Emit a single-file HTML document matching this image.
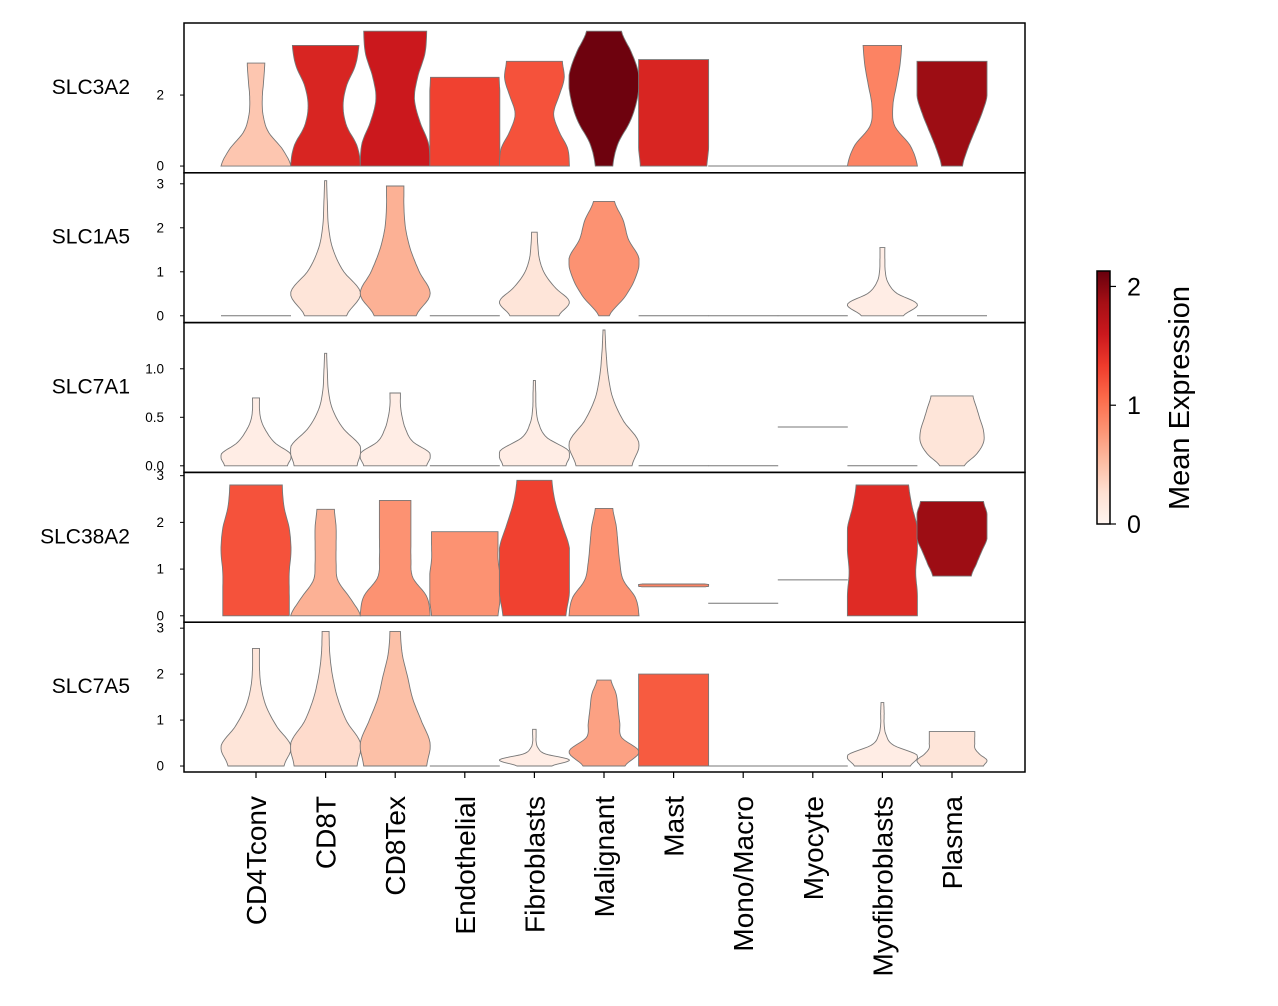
<!DOCTYPE html>
<html><head><meta charset="utf-8"><style>
html,body{margin:0;padding:0;background:#fff;}
svg{display:block;font-family:"Liberation Sans","DejaVu Sans",sans-serif;}
</style></head><body>
<svg id="chart" width="1278" height="1006" viewBox="0 0 1278 1006">
<defs><linearGradient id="reds" x1="0" y1="1" x2="0" y2="0">
<stop offset="0" stop-color="#fff5f0"/><stop offset="0.125" stop-color="#fee0d2"/><stop offset="0.25" stop-color="#fcbba1"/><stop offset="0.375" stop-color="#fc9272"/><stop offset="0.5" stop-color="#fb6a4a"/><stop offset="0.625" stop-color="#ef3b2c"/><stop offset="0.75" stop-color="#cb181d"/><stop offset="0.875" stop-color="#a50f15"/><stop offset="1" stop-color="#67000d"/>
</linearGradient></defs>
</svg>
<script>
const categories=["CD4Tconv","CD8T","CD8Tex","Endothelial","Fibroblasts","Malignant","Mast","Mono/Macro","Myocyte","Myofibroblasts","Plasma"];
const genes=["SLC3A2","SLC1A5","SLC7A1","SLC38A2","SLC7A5"];
const yTicks=[[0,2],[0,1,2,3],[0,0.5,1.0],[0,1,2,3],[0,1,2,3]];
const yTickLabels=[["0","2"],["0","1","2","3"],["0.0","0.5","1.0"],["0","1","2","3"],["0","1","2","3"]];
const yMax=[4.03,3.25,1.476,3.07,3.13];
const yMinV=[-0.19,-0.155,-0.068,-0.137,-0.13];
const tops=[
[2.9,3.4,3.8,2.5,2.95,3.8,3.0,0,0,3.4,2.95],
[0,3.07,2.95,0,1.9,2.6,0,0,0,1.55,0],
[0.7,1.16,0.75,0,0.88,1.4,0,0,0.4,0,0.72],
[2.8,2.28,2.47,1.8,2.9,2.3,0.68,0.27,0.77,2.8,2.45],
[2.56,2.93,2.93,0,0.8,1.87,2.0,0,0,1.38,0.75]];
const mins=[
[0,0,0,0,0,0,0,0,0,0,0],
[0,0,0,0,0,0,0,0,0,0,0],
[0,0,0,0,0,0,0,0,0.4,0,0],
[0,0,0,0,0,0,0.62,0.27,0.77,0,0.85],
[0,0,0,0,0,0,0,0,0,0,0]];
const means=[
[0.45,1.5,1.6,1.3,1.2,2.1,1.5,0,0,0.9,1.9],
[0,0.2,0.6,0,0.2,0.8,0,0,0,0.1,0],
[0.1,0.1,0.1,0,0.1,0.2,0,0,0,0,0.2],
[1.2,0.6,0.8,0.8,1.3,0.8,0.9,0,0,1.45,1.9],
[0.2,0.3,0.5,0,0.1,0.7,1.15,0,0,0.1,0.2]];
const F=[1,1,1,1,1,1,1];
const profiles=[
[[1,0.75,0.35,0.2,0.18,0.22,0.25],[1,0.9,0.6,0.5,0.6,0.85,0.95],[1,0.95,0.7,0.55,0.65,0.85,0.9],[1,1,1,1,1,1,0.98],[1,0.95,0.7,0.55,0.7,0.85,0.8],[0.25,0.4,0.75,0.95,1,0.8,0.5],[0.95,1,1,1,1,1,1],F,F,[1,0.8,0.35,0.3,0.4,0.5,0.55],[0.3,0.45,0.65,0.85,1,1,1]],
[F,[0.6,1,0.5,0.2,0.08,0.05,0.03],[0.6,1,0.7,0.45,0.3,0.25,0.25],F,[0.7,1,0.6,0.3,0.15,0.1,0.08],[0.15,0.6,0.9,1,0.7,0.55,0.3],F,F,F,[0.6,1,0.4,0.15,0.08,0.07,0.07],F],
[[0.9,1,0.55,0.3,0.15,0.1,0.1],[0.9,1,0.5,0.2,0.08,0.05,0.03],[0.9,1,0.5,0.3,0.2,0.15,0.15],F,[0.9,1,0.35,0.12,0.05,0.04,0.03],[0.8,1,0.55,0.25,0.12,0.06,0.03],F,F,F,F,[0.35,0.7,0.9,0.9,0.8,0.7,0.6]],
[[0.95,0.95,0.95,1,0.95,0.8,0.75],[1,0.7,0.35,0.3,0.3,0.3,0.25],[1,0.9,0.5,0.45,0.45,0.45,0.45],[0.95,1,1,1,0.95,0.95,0.95],[0.9,1,1,1,0.8,0.6,0.5],[1,0.9,0.55,0.45,0.4,0.35,0.25],[0.9,1,1,1,1,1,0.9],F,F,[1,1,0.95,1,1,0.85,0.75],[0.55,0.7,0.85,1,1,1,0.9]],
[[0.8,1,0.6,0.3,0.15,0.1,0.1],[0.9,1,0.6,0.35,0.2,0.12,0.1],[0.9,1,0.75,0.5,0.35,0.2,0.15],F,[0.5,1,0.3,0.1,0.05,0.05,0.05],[0.6,1,0.5,0.45,0.4,0.35,0.2],F,F,F,[0.8,1,0.3,0.1,0.05,0.05,0.04],[0.9,1,0.8,0.66,0.65,0.65,0.65]]];
const cbTicks=[0,1,2];
const vmax=2.13;

const NS="http://www.w3.org/2000/svg";
const svg=document.getElementById('chart');
const X0=184,X1=1025,panelTop=23,panelH=149.8;
const xScale=i=>X0+72+i*69.6;
const halfW=35;
const stops=[[255,245,240],[254,224,210],[252,187,161],[252,146,114],[251,106,74],[239,59,44],[203,24,29],[165,15,21],[103,0,13]];
function color(v){let t=Math.max(0,Math.min(1,v/vmax))*8;let i=Math.min(7,Math.floor(t)),f=t-i;const a=stops[i],b=stops[i+1];return `rgb(${a.map((c,k)=>Math.round(c+(b[k]-c)*f)).join(',')})`;}
function el(tag,attrs,parent){const e=document.createElementNS(NS,tag);for(const k in attrs)e.setAttribute(k,attrs[k]);(parent||svg).appendChild(e);return e;}
function cr(p,t){const n=p.length-1;let x=t*n;let i=Math.min(n-1,Math.floor(x));let f=x-i;const p0=p[Math.max(0,i-1)],p1=p[i],p2=p[i+1],p3=p[Math.min(n,i+2)];
return Math.max(0,0.5*((2*p1)+(-p0+p2)*f+(2*p0-5*p1+4*p2-p3)*f*f+(-p0+3*p1-3*p2+p3)*f*f*f));}

genes.forEach((g,gi)=>{
  const py=panelTop+gi*panelH, pb=py+panelH;
  const yS=v=>pb-(v-yMinV[gi])/(yMax[gi]-yMinV[gi])*panelH;
  const grp=el('g',{});
  
  
  categories.forEach((c,ci)=>{
    const cx=xScale(ci),top=tops[gi][ci],mn=mins[gi][ci],prof=profiles[gi][ci];
    let e;
    if(top-mn<0.02){
      e=el('line',{x1:cx-halfW,x2:cx+halfW,y1:yS(top),y2:yS(top),stroke:'#777','stroke-width':1},grp);
    }else{
      const N=40,L=[],R=[];
      for(let k=0;k<=N;k++){const t=k/N;const y=yS(mn+(top-mn)*t);const w=Math.min(1,cr(prof,t))*halfW;L.push([cx-w,y]);R.push([cx+w,y]);}
      const pts=L.concat(R.reverse());
      e=el('path',{d:'M'+pts.map(p=>p[0].toFixed(1)+','+p[1].toFixed(1)).join('L')+'Z',fill:color(means[gi][ci]),stroke:'#777','stroke-width':0.9},grp);
    }
    
    
  });
  const fr=el('rect',{x:X0,y:py,width:X1-X0,height:panelH,fill:'none',stroke:'#000','stroke-width':1.5},grp);
  
  
  yTicks[gi].forEach((v,k)=>{
    const y=yS(v);
    el('line',{x1:X0-4,x2:X0,y1:y,y2:y,stroke:'#000','stroke-width':1},grp);
    const t=el('text',{x:X0-20,y:y+4.5,'font-size':13.5,'text-anchor':'end',fill:'#000'},grp);
    t.textContent=yTickLabels[gi][k];
    
    
  });
  const gl=el('text',{x:130,y:py+panelH/2-4,'font-size':21,'text-anchor':'end',fill:'#000'},grp);
  gl.textContent=g;
  
  
});
categories.forEach((c,ci)=>{
  const cx=xScale(ci);
  el('line',{x1:cx,x2:cx,y1:772,y2:778,stroke:'#000','stroke-width':1.2});
  const t=el('text',{x:0,y:0,'font-size':28,'text-anchor':'end',fill:'#000',transform:`translate(${cx+10},796) rotate(-90)`});
  t.textContent=c;
  
  
});
const cbTop=271,cbBot=524;
const cb=el('rect',{x:1097,y:cbTop,width:13,height:cbBot-cbTop,fill:'url(#reds)',stroke:'#000','stroke-width':1.5});


cbTicks.forEach(v=>{
  const y=cbBot-v/vmax*(cbBot-cbTop);
  el('line',{x1:1110,x2:1116,y1:y,y2:y,stroke:'#000','stroke-width':1.2});
  const t=el('text',{x:1127,y:y+9,'font-size':25,fill:'#000'});
  t.textContent=String(v);
  
  
});
const ct=el('text',{x:0,y:0,'font-size':29,'text-anchor':'middle',fill:'#000',transform:'translate(1189,398) rotate(-90)'});
ct.textContent='Mean Expression';


</script>
</body></html>
